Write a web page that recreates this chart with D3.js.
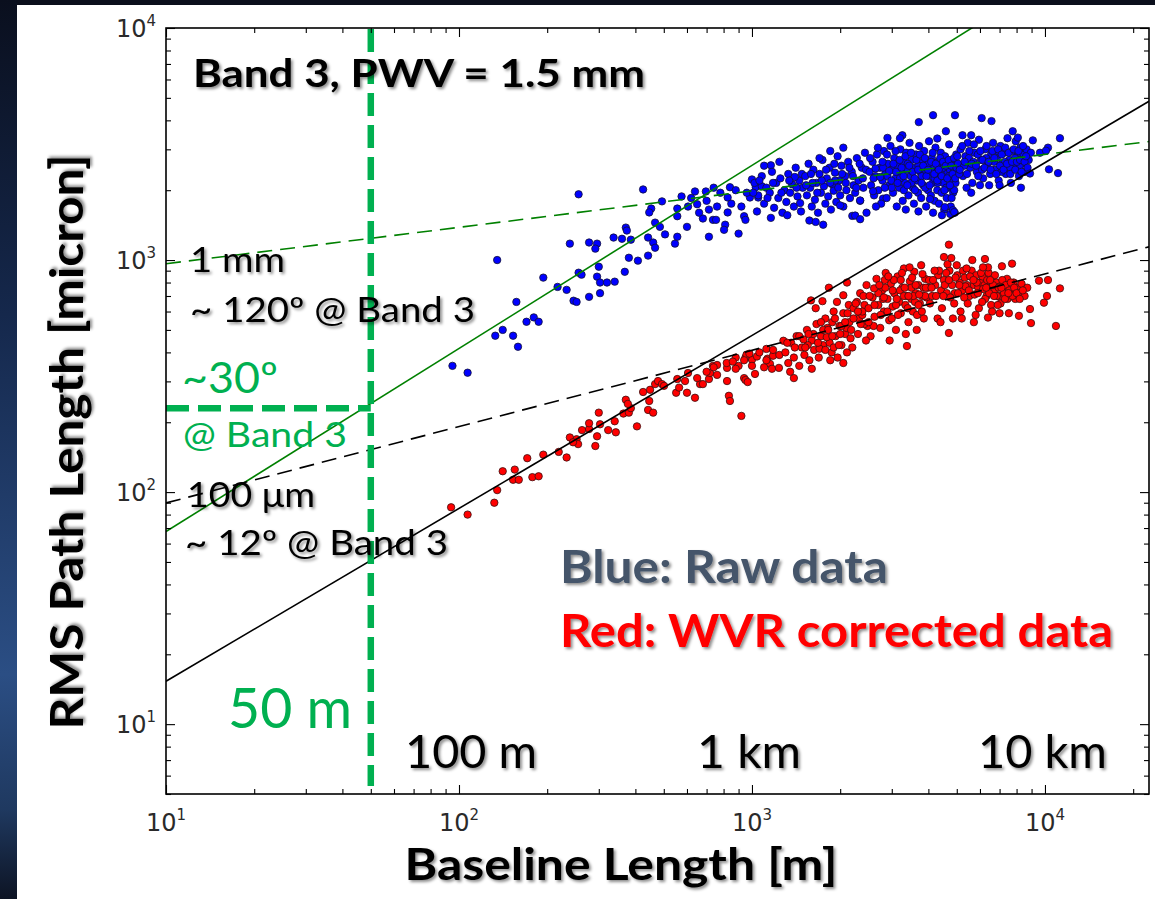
<!DOCTYPE html>
<html>
<head>
<meta charset="utf-8">
<script src="https://cdn.jsdelivr.net/npm/d3@7"></script>
<style>
  html, body { margin: 0; padding: 0; background: #0b0f1c; }
  svg { display: block; }
</style>
</head>
<body>
<svg id="chart" width="1155" height="899"></svg>
<script>
// ---- axis settings -------------------------------------------------------
const xDomain = [10, 22650];      // baseline length [m]
const yDomain = [5, 10000];       // RMS path length [micron]
const xTickValues = [10, 100, 1000, 10000];
const yTickValues = [10, 100, 1000, 10000];

// ---- power-law fits: rms = a * (baseline / 10 m)^k -------------------------
const fitA     = [67.6, 964, 15.3, 89.8];
const fitK     = [0.789, 0.157, 0.745, 0.329];
const fitColor = ["#008000", "#008000", "#000000", "#000000"];
const fitDash  = [null, "15,8", null, "15,8"];

// ---- 50 m baseline marker -------------------------------------------------
const markBaseline = 50;
const markRms = 230;

// ---- raw (uncorrected) phase rms: [baseline m, rms micron] -----------------
const rawData = [
  [95,350],[107,327],[135,1000],[133,472],[141,500],[153,472],[159,423],[157,660],[170,542],[180,566],
  [187,542],[194,840],[217,766],[233,744],[246,668],[252,660],[256,882],[262,865],[256,1920],[239,1177],
  [278,1190],[296,1177],[292,1120],[278,694],[303,720],[296,848],[300,936],[303,800],[320,800],[340,807],
  [368,890],[337,1250],[360,1235],[386,1224],[371,1380],[374,1340],[380,1023],[408,994],[442,1045],[442,1250],
  [460,1190],[467,1130],[453,1667],[446,1604],[425,2015],[493,1790],[467,1450],[485,1390],[505,1290],[546,1177],
  [556,1667],[556,1545],[575,1880],[605,1700],[650,1740],[639,1975],[696,1975],[600,1390],[556,1260],[713,1260],
  [680,1510],[736,1490],[754,1490],[713,1650],[826,1860],[841,2060],[826,1604],[810,1420],[803,1350],[900,1300],
  [940,1545],[950,1490],[1000,2225],[1160,2560],[1030,2060],[1080,2080],[984,1860],[1050,1860],
  [620,1850],[700,1800],[760,1700],[780,1950],[850,1750],[880,2000],[920,1700],[960,1950],[660,1600],[740,2050],
  [1020,2150],[1050,1900],[1080,2300],[1100,1750],[1120,2050],[1150,1950],[1170,2400],[1190,1680],[1210,2150],[1230,1850],
  [1250,2250],[1270,1600],[1290,2000],[1310,1780],[1330,2350],[1350,1950],[1370,2120],[1390,1700],[1410,2500],[1430,1880],
  [1450,2200],[1470,1620],[1490,2050],[1100,2550],[1160,1520],[1240,2650],[1320,1560],[1400,2280],[1460,1760],[1040,1620],
  [1010,1950],[1060,2200],[1130,1850],[1180,2150],[1260,1950],[1340,2200],[1420,2050],[1480,2350],
  [1520,2300],[1540,1900],[1560,2600],[1580,2050],[1600,1700],[1620,2450],[1640,1820],[1660,2150],[1680,1600],[1700,2350],
  [1720,1950],[1740,2700],[1760,2080],[1780,1750],[1800,2250],[1820,1880],[1840,2500],[1860,1650],[1880,2120],[1900,1990],
  [1920,2380],[1940,1780],[1960,2800],[1980,2200],[2000,1900],[2020,2550],[2050,1700],[2080,2300],[2100,2000],[2130,2650],
  [2160,1850],[2190,2400],[2220,2100],[2250,1950],[2280,2750],[2310,2200],[2340,1800],[2370,2500],[2400,2050],[2430,2900],
  [2460,1600],[1570,1480],[1650,1460],[1700,2750],[1850,2950],[2050,3050],[1750,1420],[2200,1550],[1610,2150],[1920,2200],
  [2000,1720],[2340,1806],[2250,1555],[2340,1500],[2800,1840],
  [1530,2100],[1590,2350],[1670,1950],[1730,2200],[1790,2450],[1850,2150],[1910,2600],[1970,2050],[2030,2350],[2090,2150],
  [2150,2500],[2210,2300],[2270,2050],[2330,2600],[2390,2250],[2450,2450],
  [2520,2400],[2550,2100],[2580,2650],[2610,1900],[2640,2300],[2670,2850],[2700,2000],[2730,2500],[2760,1750],[2790,2200],
  [2820,2950],[2850,2350],[2880,1850],[2910,2600],[2940,2100],[2970,3100],[3000,2450],[3030,1950],[3060,2750],[3090,2250],
  [3120,1700],[3150,2550],[3180,2050],[3210,3000],[3240,2350],[3270,1800],[3300,2650],[3330,2150],[3360,2900],[3390,2450],
  [3420,1900],[3450,3200],[3480,2300],[3510,2700],[3540,2050],[3570,1750],[3600,2500],[3630,2850],[3660,2200],[3690,1950],
  [3720,3100],[3750,2400],[3780,1850],[3810,2650],[3840,2100],[3870,2950],[3900,2350],[3930,1700],[3960,2550],[3990,2000],
  [4020,3250],[4050,2300],[4080,1900],[4110,2750],[4140,2150],[4170,2500],[4200,1800],[4230,3050],[4260,2400],[4290,2000],
  [4320,2650],[4350,1750],[4380,2250],[4410,2900],[4440,1950],[4470,2550],[4500,2150],[4530,1650],[4560,2800],[4590,2350],
  [4620,1850],[4650,2600],[4680,2050],[4710,3150],[4740,2450],[4770,1700],[4800,2250],[4830,2700],[4860,1950],[4890,2450],
  [4920,1600],[4950,2150],[4980,2850],
  [2600,2250],[2800,2500],[3000,2050],[3200,2250],[3400,2600],[3600,2000],[3800,2300],[4000,2600],[4200,2250],[4400,2400],
  [4600,2050],[4800,1850],[2900,2300],[3100,2400],[3300,2000],[3500,2150],[3700,2550],[3900,2050],[4100,2400],[4300,2150],
  [4500,2500],[4700,2300],[4900,2000],[2650,1700],[3350,1650],[4150,1600],[4450,1560],[3700,1620],[4750,1580],[4850,1640],
  [4900,1610],[4550,1690],[4050,1830],
  [2530,2750],[2590,1980],[2640,2480],[2690,3050],[2740,2280],[2790,2650],[2840,2050],[2890,2850],[2940,2420],[2990,2200],
  [3040,2600],[3090,2950],[3140,2150],[3190,2700],[3240,2500],[3290,2300],[3340,2800],[3390,2100],[3440,2550],[3490,2900],
  [3540,2400],[3590,2250],[3640,2700],[3690,2450],[3740,2850],[3790,2150],[3840,2550],[3890,2750],[3940,2300],[3990,2450],
  [4040,2100],[4090,2650],[4140,2900],[4190,2350],[4240,2600],[4290,2200],[4340,2450],[4390,2750],[4440,2300],[4490,2650],
  [4540,2000],[4590,2550],[4640,2250],[4690,2700],[4740,2100],[4790,2550],[4840,2350],[4890,2750],[4940,2250],[4990,2500],
  [5050,2600],[5150,3000],[5250,2300],[5350,2800],[5450,3200],[5550,2500],[5650,2150],[5750,2900],[5850,2400],[5950,3300],
  [6050,2700],[6150,2250],[6250,3000],[6350,2550],[6450,2100],[6550,2850],[6650,3200],[6750,2450],[6850,2750],[6950,2200],
  [7050,3100],[7150,2600],[7250,2900],[7350,2350],[7450,3350],[7550,2700],[7650,2150],[7750,2950],[7850,2500],[7950,3250],
  [8050,2800],[8150,2300],[8250,3050],[8350,2600],[8450,2850],[8550,2400],[8650,3000],[8800,2700],[8950,2900],[5100,2350],
  [5300,2550],[5500,2750],[5700,2650],[5900,2850],[6100,2450],[6300,2750],[6500,2350],[6700,2650],[6900,2950],[7100,2400],
  [7300,2650],[7600,2500],[7900,2750],[8200,2550],[5400,2050],[5600,1950],[6000,2100],[7000,2100],
  [5020,2800],[5120,2450],[5220,3100],[5320,2650],[5420,2350],[5520,2950],[5620,2600],[5720,3150],[5820,2550],[5920,2300],
  [6020,2950],[6120,2700],[6220,2500],[6320,3100],[6420,2650],[6520,2450],[6620,2950],[6720,2750],[6820,2350],[6920,3000],
  [7020,2550],[7120,2850],[7220,2450],[7320,3050],[7420,2600],[7520,2900],[7620,2350],[7720,2650],[7820,3000],[7920,2450],
  [8020,2650],[8120,2950],[8220,2700],[8320,2400],[8420,3100],[8520,2650],[8620,2800],[8720,2500],
  [6080,4090],[6570,3970],[4150,4210],[4930,4210],[3710,3930],[7760,3590],[8080,3370],[9090,3280],[11250,3350],[10240,3050],
  [9615,2900],[10080,2960],[10320,2460],[11080,2370],[8890,2360],[8280,2050],[4590,3590],[4290,3340],[2900,3360],[3260,3450],
  [3200,3350],[5230,3450],[5600,3450]
];

// ---- WVR-corrected phase rms: [baseline m, rms micron] ---------------------
const wvrData = [
  [94,86],[107,80],[132,90],[135,102],[141,123],[155,125],[153,113],[160,113],[171,140],[178,116],
  [187,117],[194,145],[219,149],[233,141],[239,172],[252,169],[255,161],[245,164],[263,185],[278,187],
  [278,198],[300,220],[303,196],[292,158],[296,174],[323,185],[343,181],[340,202],[364,218],[380,220],
  [386,230],[371,250],[377,240],[405,192],[425,270],[446,247],[449,276],[442,226],[460,220],[467,292],
  [478,301],[493,292],[501,287],[556,307],[591,301],[551,268],[564,282],[600,268],[639,255],[605,326],
  [665,292],[680,292],[713,307],[719,326],[736,350],[760,353],[822,343],[822,301],[834,260],[841,247],
  [880,380],[900,350],[920,213],[940,310],[950,304],[967,298],[1000,372],[950,380],[958,391],[1024,323],
  [1040,384],[1120,414],[1130,376],[1152,357],[1170,340],[1180,387],[1236,343],[1280,449],[1390,310],
  [700,330],[760,320],[820,360],[880,340],[940,370],[1000,350],[1060,400],[1120,370],[1180,410],[1240,390],
  [650,310],[740,345],[860,365],[980,395],[1100,345],
  [1300,400],[1330,360],[1360,440],[1390,380],[1420,470],[1450,350],[1480,420],[1510,390],[1540,500],[1570,370],
  [1600,450],[1630,410],[1660,530],[1690,380],[1720,470],[1750,430],[1780,560],[1810,510],[1840,440],[1870,400],
  [1900,600],[1930,470],[1960,380],[1990,520],[2020,430],[2050,590],[2080,480],[2110,400],[2140,640],[2170,460],
  [1350,330],[1450,470],[1550,430],[1650,620],[1750,500],[1850,370],[1950,660],[2050,360],[2150,540],[1400,420],
  [1500,455],[1700,415],[1800,465],[1900,420],[2000,480],[2100,510],[1320,440],[1600,340],[1880,540],[2200,420],
  [1590,670],[1740,665],[1830,760],[2050,705],[2110,800],
  [1520,420],[1620,480],[1720,540],[1820,500],[1920,560],[2020,520],[2120,590],[2220,620],[2320,560],[2420,640],
  [1680,440],[1780,410],[1880,470],[1980,430],[2080,540],[2180,500],[2280,660],[2380,580],[2480,520],[1560,480],
  [2220,560],[2260,650],[2300,480],[2340,720],[2380,600],[2420,530],[2460,780],[2500,620],[2540,470],[2580,690],
  [2620,570],[2660,830],[2700,640],[2740,510],[2780,740],[2820,600],[2860,880],[2900,680],[2940,550],[2980,790],
  [3020,630],[3060,720],[3100,500],[3140,850],[3180,660],[3220,590],[3260,760],[3300,920],[3340,640],[3380,700],
  [3420,540],[3460,810],[3500,680],[3540,600],[3580,890],[3620,720],[3660,580],[3700,780],[3740,650],[3780,950],
  [3820,700],[3860,560],[3900,830],[3940,690],[3980,760],
  [2400,700],[2600,520],[2800,680],[3000,560],[3200,740],[3400,620],[3600,660],[3800,600],[2300,600],[2500,540],
  [2700,720],[2900,600],[3100,640],[3300,700],[3500,760],[3700,640],[3900,700],[2450,450],[2950,450],[3350,480],
  [3650,500],[2350,530],[2750,580],[3150,580],[3550,700],[3850,760],[3050,820],[3250,880],[3450,930],[2850,760],
  [2840,820],[2610,755],
  [2520,700],[2620,640],[2720,780],[2820,690],[2920,850],[3020,740],[3120,680],[3220,820],[3320,760],[3420,700],
  [3520,840],[3620,780],[3720,710],[3820,870],[3920,760],[4020,820],[4120,700],[4220,780],[4320,860],[4420,740],
  [4520,820],[4620,720],[4720,900],[4820,780],[4920,720],[5020,860],[5120,800],[5220,740],[5320,840],[5420,780],
  [5520,700],[5620,900],[5720,780],[5820,860],[5920,760],[6020,800],[6120,850],[6220,780],[6320,700],[6420,880],
  [6520,760],[6620,820],[6720,740],[6820,800],[6920,700],[7020,770],[7120,700],[7220,800],[7320,750],[7420,830],
  [7520,690],[7620,760],[7720,720],[7820,800],[7920,680],[8020,760],[8120,720],[8320,790],[8520,700],[8700,760],
  [4050,650],[4150,820],[4250,700],[4350,900],[4450,620],[4550,780],[4650,960],[4750,690],[4850,560],[4950,840],
  [5050,720],[5150,600],[5250,900],[5350,770],[5450,650],[5550,850],[5650,1000],[5750,710],[5850,800],[5950,620],
  [6050,880],[6150,750],[6250,680],[6350,820],[6450,720],[6550,640],[6650,780],[6750,860],[6850,700],[6950,760],
  [7050,650],[7150,820],[7250,720],[7350,780],[7450,680],[7550,740],[7650,800],[7750,700],[7850,760],[8000,720],
  [8200,680],[8400,740],
  [4100,760],[4300,560],[4500,700],[4700,820],[4900,650],[5100,780],[5300,690],[5500,740],[5700,820],[5900,720],
  [6100,660],[6300,760],[6500,820],[6700,700],[6900,640],[7100,760],[7300,680],[7500,720],[4200,900],[4600,880],
  [5000,950],[5400,920],[4400,540],[5200,560],[5800,580],[6600,600],[7000,590],
  [4700,1165],[4520,1030],[4790,1020],[6240,1010],[6390,930],[6145,930],[7130,940],[7720,965],[9540,815],[10240,820],
  [11250,755],[10160,700],[9920,655],[8890,615],[10900,520],[8960,535],[8150,575],[7530,590],[3380,426],[4700,485],
  [6390,565],[5720,540]
];

// ---- labels ---------------------------------------------------------------
const xTitle = "Baseline Length [m]";
const yTitle = "RMS Path Length [micron]";
const panelTitle = "Band 3, PWV = 1.5 mm";
const legendRaw = "Blue: Raw data";
const legendWvr = "Red: WVR corrected data";
const scaleNotes = ["1 mm", "~ 120º @ Band 3", "100 μm", "~ 12º @ Band 3"];
const markNotes = ["~30º", "@ Band 3", "50 m"];
const distNotes = ["100 m", "1 km", "10 km"];

// ---- layout ---------------------------------------------------------------
const W = 1155, H = 899;
const L = 166, R = 1149, T = 28, B = 794;

const svg = d3.select("#chart");
const x = d3.scaleLog().domain(xDomain).range([L, R]);
const y = d3.scaleLog().domain(yDomain).range([B, T]);

const defs = svg.append("defs");
const edge = defs.append("linearGradient").attr("id", "edge")
  .attr("x1", 0).attr("y1", 0).attr("x2", 0).attr("y2", 1);
[[0, "#0a0f1e"], [0.35, "#15284c"], [0.75, "#2b4e84"], [0.9, "#1f3960"], [1, "#0d1424"]]
  .forEach(([o, c]) => edge.append("stop").attr("offset", o).attr("stop-color", c));

const shadow = defs.append("filter").attr("id", "shadow")
  .attr("x", "-10%").attr("y", "-20%").attr("width", "125%").attr("height", "150%");
shadow.append("feDropShadow").attr("dx", 2).attr("dy", 2).attr("stdDeviation", 1.6)
  .attr("flood-color", "#000").attr("flood-opacity", 0.45);

defs.append("clipPath").attr("id", "plotClip")
  .append("rect").attr("x", L).attr("y", T).attr("width", R - L).attr("height", B - T);

// slide background and white panel
svg.append("rect").attr("width", W).attr("height", H).attr("fill", "#0b0f1c");
svg.append("rect").attr("x", 0).attr("y", 0).attr("width", 17).attr("height", H).attr("fill", "url(#edge)");
svg.append("rect").attr("x", 17).attr("y", 5).attr("width", W - 17).attr("height", H - 5).attr("fill", "#ffffff");

const plot = svg.append("g").attr("clip-path", "url(#plotClip)");

// scatter points
plot.append("g").selectAll("circle").data(rawData).join("circle")
  .attr("cx", d => x(d[0])).attr("cy", d => y(d[1])).attr("r", 3.7)
  .attr("fill", "#0000ff").attr("stroke", "#111133").attr("stroke-width", 0.8);

plot.append("g").selectAll("circle").data(wvrData).join("circle")
  .attr("cx", d => x(d[0])).attr("cy", d => y(d[1])).attr("r", 3.7)
  .attr("fill", "#ff0000").attr("stroke", "#3a1010").attr("stroke-width", 0.8);

// fitted power laws
const line = d3.line().x(d => x(d[0])).y(d => y(d[1]));
fitA.forEach((a, i) => {
  const pts = xDomain.map(b => [b, a * Math.pow(b / 10, fitK[i])]);
  plot.append("path").attr("d", line(pts))
    .attr("fill", "none").attr("stroke", fitColor[i]).attr("stroke-width", 1.6)
    .attr("stroke-dasharray", fitDash[i]);
});

// 50 m marker lines
const mg = "#00b050";
svg.append("line")
  .attr("x1", x(markBaseline)).attr("x2", x(markBaseline)).attr("y1", T + 1).attr("y2", 786)
  .attr("stroke", mg).attr("stroke-width", 6.5).attr("stroke-dasharray", "23,9");
svg.append("line")
  .attr("x1", L).attr("x2", x(markBaseline)).attr("y1", y(markRms)).attr("y2", y(markRms))
  .attr("stroke", mg).attr("stroke-width", 6.5).attr("stroke-dasharray", "23,9");

// ticks on all four sides, pointing inward
const xMinor = x.ticks().filter(v => !xTickValues.includes(v));
const yMinor = y.ticks().filter(v => !yTickValues.includes(v));
function tickRow(axis, tx, ty, values, size) {
  const g = svg.append("g").attr("transform", `translate(${tx},${ty})`)
    .call(axis.tickValues(values).tickSize(-size).tickFormat(""));
  g.select(".domain").remove();
  g.selectAll("line").attr("stroke", "#000").attr("stroke-width", 1.1);
}
tickRow(d3.axisBottom(x), 0, B, xTickValues, 9);
tickRow(d3.axisBottom(x), 0, B, xMinor, 5);
tickRow(d3.axisTop(x), 0, T, xTickValues, 9);
tickRow(d3.axisTop(x), 0, T, xMinor, 5);
tickRow(d3.axisLeft(y), L, 0, yTickValues, 9);
tickRow(d3.axisLeft(y), L, 0, yMinor, 5);
tickRow(d3.axisRight(y), R, 0, yTickValues, 9);
tickRow(d3.axisRight(y), R, 0, yMinor, 5);

svg.append("rect").attr("x", L).attr("y", T).attr("width", R - L).attr("height", B - T)
  .attr("fill", "none").attr("stroke", "#000").attr("stroke-width", 1.6);

// power-of-ten tick labels
function powerLabel(sel, v) {
  sel.attr("font-family", "DejaVu Sans").attr("font-size", 24).attr("fill", "#2a2a2a");
  sel.append("tspan").text("10");
  sel.append("tspan").attr("font-size", 15).attr("dy", -11).text(String(Math.round(Math.log10(v))));
}
xTickValues.forEach(v => {
  svg.append("text").attr("x", x(v)).attr("y", 831).attr("text-anchor", "middle").call(powerLabel, v);
});
yTickValues.forEach(v => {
  svg.append("text").attr("x", 156).attr("y", y(v) + 9).attr("text-anchor", "end").call(powerLabel, v);
});

// text helper: glyphs are stretched to the given run length
function label(str, px, py, o) {
  const t = svg.append("text").attr("x", px).attr("y", py).text(str)
    .attr("font-family", "Lato, 'Open Sans', sans-serif")
    .attr("font-size", o.size).attr("font-weight", o.bold ? 700 : 400)
    .attr("fill", o.color || "#000")
    .attr("text-anchor", o.anchor || "start");
  if (o.width) t.attr("textLength", o.width).attr("lengthAdjust", "spacingAndGlyphs");
  if (o.shadow) t.attr("filter", "url(#shadow)");
  if (o.rotate) t.attr("transform", `rotate(-90,${px},${py})`);
  return t;
}

label(panelTitle, 193, 87, { size: 39, bold: true, width: 452, shadow: true });

label(scaleNotes[0], 190, 272, { size: 35, width: 95, shadow: true });
label(scaleNotes[1], 190, 322, { size: 35, width: 285, shadow: true });
label(scaleNotes[2], 187, 507, { size: 35, width: 128, shadow: true });
label(scaleNotes[3], 185, 555, { size: 35, width: 263, shadow: true });

label(markNotes[0], 182, 393, { size: 43, width: 96, color: mg });
label(markNotes[1], 183, 447, { size: 35, width: 164, color: mg });
label(markNotes[2], 228, 728, { size: 56, width: 124, color: mg });

label(distNotes[0], 405, 768, { size: 47, width: 132, shadow: true });
label(distNotes[1], 697, 768, { size: 47, width: 104, shadow: true });
label(distNotes[2], 978, 768, { size: 47, width: 129, shadow: true });

label(legendRaw, 560, 583, { size: 46, bold: true, width: 328, color: "#44546a", shadow: true });
label(legendWvr, 560, 647, { size: 46, bold: true, width: 553, color: "#ff0000", shadow: true });

label(xTitle, 621, 880, { size: 44, bold: true, width: 433, anchor: "middle", shadow: true });
label(yTitle, 83, 442, { size: 46, bold: true, width: 575, anchor: "middle", shadow: true, rotate: true });
</script>
</body>
</html>
